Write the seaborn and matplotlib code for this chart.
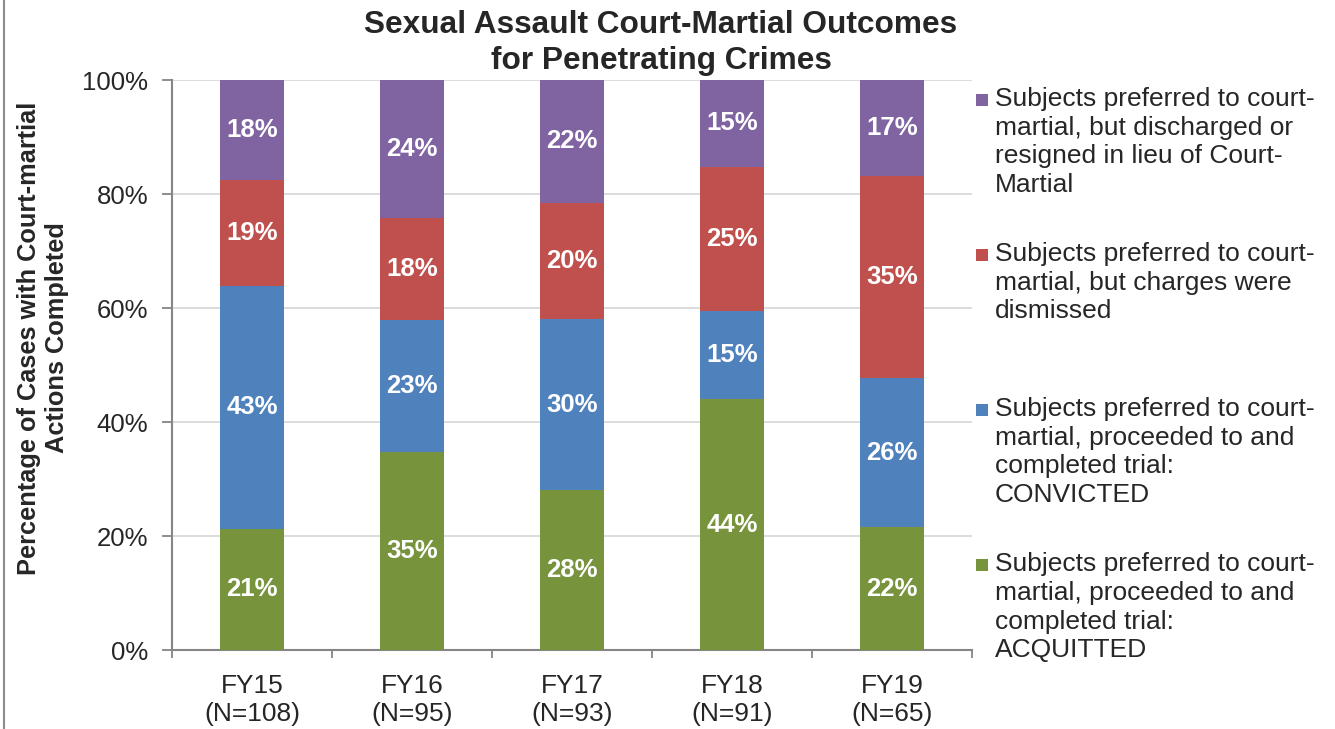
import pandas as pd
import matplotlib.pyplot as plt
import seaborn as sns
from matplotlib.patches import Rectangle
from matplotlib.lines import Line2D

# Dados (percentual de casos por desfecho)
years = ['FY15', 'FY16', 'FY17', 'FY18', 'FY19']
n_cases = [108, 95, 93, 91, 65]
acquitted = [21.3, 34.7, 28.0, 44.0, 21.5]
convicted = [42.6, 23.2, 30.1, 15.4, 26.2]
dismissed = [18.5, 17.9, 20.4, 25.3, 35.4]
discharged = [17.6, 24.2, 21.5, 15.4, 16.9]

legend_labels = [
    'Subjects preferred to court-\nmartial, but discharged or\nresigned in lieu of Court-\nMartial',
    'Subjects preferred to court-\nmartial, but charges were\ndismissed',
    'Subjects preferred to court-\nmartial, proceeded to and\ncompleted trial:\nCONVICTED',
    'Subjects preferred to court-\nmartial, proceeded to and\ncompleted trial:\nACQUITTED',
]

purple, red, blue, green = '#8064A2', '#C0504D', '#4F81BD', '#77933C'

sns.set_style('white')
plt.rcParams['font.family'] = ['Liberation Sans', 'DejaVu Sans']

df = pd.DataFrame({
    'label': [f'{y}\n(N={n})' for y, n in zip(years, n_cases)],
    'acq': acquitted, 'conv': convicted, 'dism': dismissed, 'disc': discharged,
})
df['c1'] = df['acq']
df['c2'] = df['c1'] + df['conv']
df['c3'] = df['c2'] + df['dism']
df['c4'] = df['c3'] + df['disc']

fig = plt.figure(figsize=(13.35, 7.29), dpi=100)
ax = fig.add_axes([172 / 1335, 1 - 650 / 729, 800 / 1335, 570 / 729])

# barras empilhadas: desenha as somas acumuladas da maior para a menor
for col, color in [('c4', purple), ('c3', red), ('c2', blue), ('c1', green)]:
    sns.barplot(data=df, x='label', y=col, color=color, saturation=1,
                width=0.4, errorbar=None, linewidth=0, ax=ax, zorder=3)

# rótulos no meio de cada segmento
segs = [('acq', None), ('conv', 'c1'), ('dism', 'c2'), ('disc', 'c3')]
for i in range(len(df)):
    for col, base in segs:
        v = df[col].iloc[i]
        b = 0 if base is None else df[base].iloc[i]
        ax.text(i, b + v / 2, f'{int(v + 0.5)}%', ha='center', va='center',
                color='white', fontsize=18.5, fontweight='bold', zorder=4)

ax.set_ylim(0, 100)
ax.set_xlim(-0.5, len(df) - 0.5)
ax.set_yticks(range(0, 101, 20))
ax.set_yticklabels([f'{t}%' for t in range(0, 101, 20)])
ax.set_xticks([i - 0.5 for i in range(len(df) + 1)], minor=True)
ax.tick_params(axis='y', left=True, length=7, width=1.3, color='#868686',
               labelsize=18.5, pad=10)
ax.tick_params(axis='x', which='major', bottom=False, labelsize=19, pad=14)
ax.tick_params(axis='x', which='minor', bottom=True, length=6, width=1.3,
               color='#868686')
for t in ax.get_xticklabels():
    t.set_linespacing(1.2)
ax.set_xlabel('')
ax.set_ylabel('')
ax.yaxis.grid(True, color='#D9D9D9', linewidth=1.3, zorder=0)
ax.set_axisbelow(True)
for s in ['top', 'right']:
    ax.spines[s].set_visible(False)
for s in ['left', 'bottom']:
    ax.spines[s].set_color('#868686')
    ax.spines[s].set_linewidth(1.5)

fig.text(661 / 1335, 1 - 10 / 729,
         'Sexual Assault Court-Martial Outcomes\nfor Penetrating Crimes',
         ha='center', va='top', fontsize=22.8, fontweight='bold', linespacing=1.25)
fig.text(43 / 1335, 1 - 338 / 729,
         'Percentage of Cases with Court-martial\nActions Completed',
         ha='center', va='center', rotation=90, fontsize=18.3,
         fontweight='bold', linespacing=1.25)

# legenda manual (alinhada à primeira linha, como no Excel)
for k, (lab, color) in enumerate(zip(legend_labels, [purple, red, blue, green])):
    top = 87 + 155 * k
    fig.text(995 / 1335, 1 - top / 729, lab, ha='left', va='top',
             fontsize=19, linespacing=1.25)
    fig.add_artist(Rectangle((976 / 1335, 1 - (top + 19) / 729), 12 / 1335, 12 / 729,
                             transform=fig.transFigure, color=color, lw=0))

fig.add_artist(Line2D([4 / 1335, 4 / 1335], [0, 1], transform=fig.transFigure,
                      color='#8C8C8C', linewidth=1.5))

plt.savefig('out.png', dpi=100)
